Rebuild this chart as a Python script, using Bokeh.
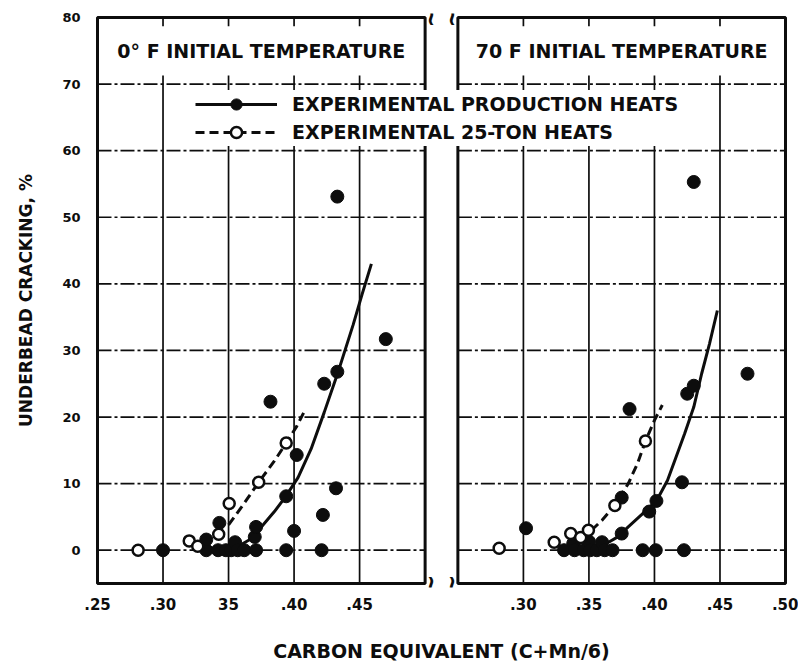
from bokeh.plotting import figure
from bokeh.models import Range1d, FixedTicker, Legend, LegendItem, Label
from bokeh.embed import file_html
from bokeh.resources import INLINE

# ---------------- data ----------------
# 0 F initial temperature (left panel)
L_PROD_X = [0.300, 0.333, 0.333, 0.342, 0.343, 0.348, 0.352, 0.355, 0.357, 0.362, 0.370, 0.371,
            0.371, 0.382, 0.394, 0.394, 0.400, 0.402, 0.421, 0.422, 0.423, 0.432, 0.433, 0.433, 0.470]
L_PROD_Y = [0.0, 0.0, 1.6, 0.0, 4.1, 0.0, 0.0, 1.2, 0.0, 0.0, 2.0, 0.0,
            3.5, 22.3, 0.0, 8.1, 2.9, 14.3, 0.0, 5.3, 25.0, 9.3, 26.8, 53.1, 31.7]
L_TON_X = [0.281, 0.320, 0.3265, 0.3425, 0.3505, 0.373, 0.394]
L_TON_Y = [0.0, 1.4, 0.6, 2.4, 7.0, 10.2, 16.1]
L_PROD_FIT_X = [0.330, 0.350, 0.360, 0.368, 0.375, 0.385, 0.393, 0.403, 0.413, 0.423, 0.434, 0.445, 0.452, 0.459]
L_PROD_FIT_Y = [0.2, 0.5, 0.9, 1.8, 3.5, 5.8, 7.9, 10.9, 15.2, 20.7, 27.0, 33.8, 38.5, 43.0]
L_TON_FIT_X = [0.350, 0.360, 0.373, 0.385, 0.394, 0.402, 0.408]
L_TON_FIT_Y = [3.8, 6.5, 10.2, 13.4, 16.1, 18.6, 20.9]

# 70 F initial temperature (right panel)
R_PROD_X = [0.302, 0.331, 0.338, 0.339, 0.346, 0.350, 0.351, 0.356, 0.360, 0.362, 0.368, 0.375,
            0.375, 0.381, 0.391, 0.396, 0.401, 0.4015, 0.421, 0.4225, 0.425, 0.430, 0.430, 0.471]
R_PROD_Y = [3.3, 0.0, 1.0, 0.0, 0.0, 1.3, 0.0, 0.0, 1.2, 0.0, 0.0, 2.5,
            7.9, 21.2, 0.0, 5.8, 0.0, 7.4, 10.2, 0.0, 23.5, 24.7, 55.3, 26.5]
R_TON_X = [0.2815, 0.3235, 0.3361, 0.3437, 0.3496, 0.3698, 0.3931]
R_TON_Y = [0.3, 1.2, 2.5, 1.9, 3.0, 6.7, 16.4]
R_PROD_FIT_X = [0.330, 0.350, 0.365, 0.372, 0.380, 0.390, 0.4015, 0.410, 0.4165, 0.423, 0.430, 0.436, 0.442, 0.448]
R_PROD_FIT_Y = [0.2, 0.5, 1.2, 2.0, 3.5, 5.3, 7.4, 10.5, 14.0, 17.5, 21.5, 26.5, 31.0, 36.0]
R_TON_FIT_X = [0.352, 0.360, 0.370, 0.380, 0.387, 0.393, 0.400, 0.406]
R_TON_FIT_Y = [3.0, 4.5, 6.8, 10.0, 13.0, 16.3, 19.5, 21.8]

LEFT_TICKS = [0.25, 0.30, 0.35, 0.40, 0.45]
LEFT_TICK_LABELS = [".25", ".30", "35", ".40", ".45"]
RIGHT_TICKS = [0.30, 0.35, 0.40, 0.45, 0.50]
RIGHT_TICK_LABELS = [".30", ".35", ".40", ".45", ".50"]
Y_TICKS = [0, 10, 20, 30, 40, 50, 60, 70, 80]
GRID_X = [0.30, 0.35, 0.40, 0.45]
GRID_Y = [0, 10, 20, 30, 40, 50, 60, 70]

LEFT_TITLE = "0° F INITIAL TEMPERATURE"
RIGHT_TITLE = "70 F INITIAL TEMPERATURE"
PROD_LABEL = "EXPERIMENTAL PRODUCTION HEATS"
TON_LABEL = "EXPERIMENTAL 25-TON HEATS"

# ---------------- layout constants ----------------
XMIN, XMAX = 0.25, 0.50
YMIN, YMAX = -5, 80
TITLE_BOTTOM = 70
GAP = 0.025
SHIFT = (XMAX - XMIN) + GAP
PADX = 0.00305
PADY = 0.6
FONT = "DejaVu Sans"
INK = "#0d0d0d"

p = figure(width=798, height=664,
           x_range=Range1d(XMIN - PADX, XMAX + SHIFT + PADX),
           y_range=Range1d(YMIN - PADY, YMAX + PADY),
           output_backend="svg", toolbar_location=None,
           min_border_left=93, min_border_right=9, min_border_top=13, min_border_bottom=77)
p.extra_x_ranges = {"right": Range1d(XMIN - SHIFT - PADX, XMAX + PADX)}
p.outline_line_color = None
p.xgrid.visible = False
p.ygrid.visible = False
p.background_fill_color = "white"
p.border_fill_color = "white"


def draw_panel(rn, prod_x, prod_y, ton_x, ton_y, pfx, pfy, tfx, tfy, title):
    n = len(GRID_X)
    # horizontal grid lines
    p.segment(x0=[XMIN] * len(GRID_Y), x1=[XMAX] * len(GRID_Y), y0=GRID_Y, y1=GRID_Y,
              line_color=INK, line_width=1.7, line_dash="14 3 3 3", x_range_name=rn)
    # vertical grid lines
    p.segment(x0=GRID_X, x1=GRID_X, y0=[YMIN] * n, y1=[TITLE_BOTTOM] * n,
              line_color=INK, line_width=1.7, x_range_name=rn)
    # short ticks inside title box
    p.segment(x0=GRID_X, x1=GRID_X, y0=[TITLE_BOTTOM] * n, y1=[TITLE_BOTTOM + 1.3] * n,
              line_color=INK, line_width=1.7, x_range_name=rn)
    p.segment(x0=GRID_X, x1=GRID_X, y0=[YMAX - 1.3] * n, y1=[YMAX] * n,
              line_color=INK, line_width=1.7, x_range_name=rn)
    # panel frame
    p.quad(left=[XMIN], right=[XMAX], bottom=[YMIN], top=[YMAX], fill_color=None,
           line_color=INK, line_width=3, x_range_name=rn)
    # fits
    tl = p.line(tfx, tfy, line_color=INK, line_width=3, line_dash="9 5", x_range_name=rn)
    pl = p.line(pfx, pfy, line_color=INK, line_width=3, x_range_name=rn)
    # points
    ps = p.scatter(prod_x, prod_y, size=13, marker="circle", fill_color=INK, line_color=INK,
                   x_range_name=rn)
    ts = p.scatter(ton_x, ton_y, size=11, marker="circle", fill_color="white", line_color=INK,
                   line_width=2.5, x_range_name=rn)
    p.add_layout(Label(x=(XMIN + XMAX) / 2, y=(TITLE_BOTTOM + YMAX) / 2, text=title,
                       x_range_name=rn, text_align="center", text_baseline="middle",
                       text_font=FONT, text_font_style="bold", text_font_size="19px",
                       text_color=INK))
    return pl, ps, tl, ts


pl, ps, tl, ts = draw_panel("default", L_PROD_X, L_PROD_Y, L_TON_X, L_TON_Y,
                            L_PROD_FIT_X, L_PROD_FIT_Y, L_TON_FIT_X, L_TON_FIT_Y, LEFT_TITLE)
draw_panel("right", R_PROD_X, R_PROD_Y, R_TON_X, R_TON_Y,
           R_PROD_FIT_X, R_PROD_FIT_Y, R_TON_FIT_X, R_TON_FIT_Y, RIGHT_TITLE)

# break marks
for rn, xx, off in [("default", XMAX, 6), ("right", XMIN, -6)]:
    for yy in (YMAX, YMIN):
        p.add_layout(Label(x=xx, y=yy, text="≀", x_range_name=rn, x_offset=off,
                           text_align="center", text_baseline="middle", text_font=FONT,
                           text_font_style="bold", text_font_size="24px", text_color=INK))

legend = Legend(items=[LegendItem(label=PROD_LABEL, renderers=[pl, ps]),
                       LegendItem(label=TON_LABEL, renderers=[tl, ts])],
                location=(102, 441), orientation="vertical",
                background_fill_color="white", background_fill_alpha=1.0,
                border_line_color=None, padding=1, spacing=0,
                glyph_width=82, glyph_height=28, label_standoff=15, label_width=419,
                label_text_font=FONT, label_text_font_style="bold",
                label_text_font_size="19px", label_text_color=INK)
p.add_layout(legend)

# axes
ticks_all = [round(t, 4) for t in LEFT_TICKS] + [round(t + SHIFT, 4) for t in RIGHT_TICKS]
labels_all = LEFT_TICK_LABELS + RIGHT_TICK_LABELS
p.xaxis.ticker = FixedTicker(ticks=ticks_all)
p.xaxis.major_label_overrides = {t: s for t, s in zip(ticks_all, labels_all)}
p.xaxis.axis_label = "CARBON EQUIVALENT (C+Mn/6)"
p.yaxis.ticker = FixedTicker(ticks=Y_TICKS)
p.yaxis.axis_label = "UNDERBEAD CRACKING, %"
for ax in (p.xaxis, p.yaxis):
    ax.axis_line_color = None
    ax.major_tick_line_color = None
    ax.minor_tick_line_color = None
    ax.major_tick_out = 0
    ax.major_tick_in = 0
    ax.major_label_text_font = FONT
    ax.major_label_text_font_style = "bold"
    ax.major_label_text_color = INK
    ax.axis_label_text_font = FONT
    ax.axis_label_text_font_style = "bold"
    ax.axis_label_text_color = INK
p.xaxis.major_label_text_font_size = "15px"
p.yaxis.major_label_text_font_size = "13px"
p.xaxis.axis_label_text_font_size = "19px"
p.yaxis.axis_label_text_font_size = "17px"
p.xaxis.major_label_standoff = 10
p.xaxis.axis_label_standoff = 27
p.yaxis.major_label_standoff = 13
p.yaxis.axis_label_standoff = 23

open("out.html", "w").write(file_html(p, INLINE))
